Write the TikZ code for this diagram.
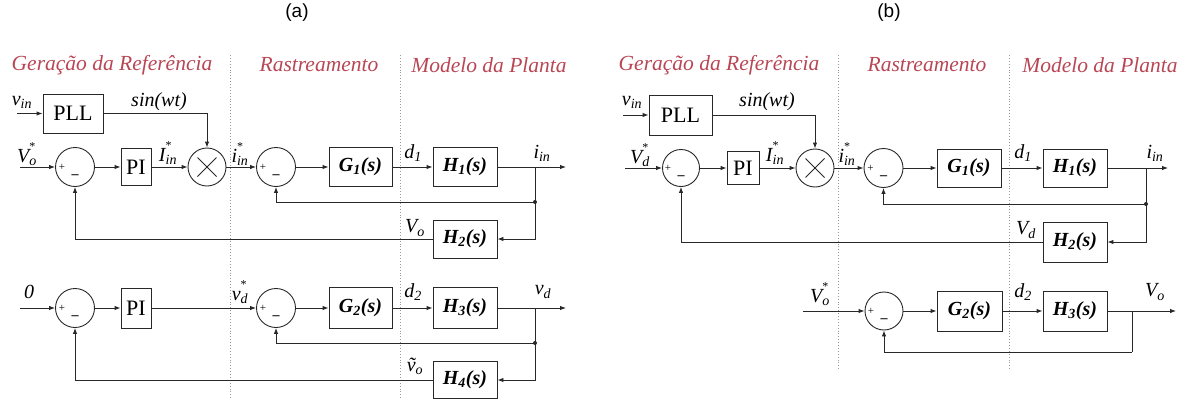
\documentclass[tikz,border=0pt]{standalone}
\usepackage{fontspec}
\setmainfont{Liberation Serif}
\newfontfamily\capfont{Liberation Sans}
\usetikzlibrary{arrows.meta}
\definecolor{ttl}{RGB}{185,70,85}
\definecolor{ln}{RGB}{40,40,40}
\newcommand{\SubSup}[3]{#1\rlap{\raisebox{0.62em}{\fontsize{12}{12}\selectfont\upshape #3}}\textsubscript{#2}}
\tikzset{
  arr/.style={draw=ln, line width=0.9pt, -{Latex[length=6pt,width=4.5pt]}},
  wire/.style={draw=ln, line width=0.9pt},
  blk/.style={draw=ln, line width=0.9pt, inner sep=0pt, font=\fontsize{20}{22}\selectfont\bfseries\itshape},
  plblk/.style={draw=ln, line width=0.9pt, inner sep=0pt, font=\fontsize{22}{24}\selectfont},
  sumc/.style={draw=ln, line width=0.9pt, circle, inner sep=0pt, minimum size=39pt},
  mulc/.style={draw=ln, line width=0.9pt, circle, inner sep=0pt, minimum size=38pt},
  lbl/.style={inner sep=0pt, font=\fontsize{20}{22}\selectfont\itshape},
  ttlf/.style={inner sep=0pt, text=ttl, font=\fontsize{21.5}{24}\selectfont\itshape},
  capf/.style={inner sep=0pt, font=\capfont\fontsize{19}{22}\selectfont},
  sep/.style={draw=gray!80, line width=0.9pt, dotted},
  pls/.style={inner sep=0pt, font=\fontsize{11}{12}\selectfont},
  mns/.style={inner sep=0pt, font=\fontsize{14}{14}\selectfont\bfseries},
}
\newcommand{\sumsigns}[1]{%
  \node[pls] at ([xshift=-13pt]#1.center) {+};
  \node[mns] at ([yshift=-10pt]#1.center) {--};
}
\newcommand{\mulx}[1]{%
  \draw[wire] ([shift={(-9.5pt,-9.5pt)}]#1.center) -- ([shift={(9.5pt,9.5pt)}]#1.center);
  \draw[wire] ([shift={(-9.5pt,9.5pt)}]#1.center) -- ([shift={(9.5pt,-9.5pt)}]#1.center);
}
\begin{document}
\begin{tikzpicture}[x=1pt,y=-1pt]
\useasboundingbox (0,0) rectangle (1189,399);

% captions
\node[capf] (capa) at (297,13) {(a)};
\node[capf] (capb) at (889,13) {(b)};

% ======================= panel (a) =======================
\node[ttlf] (ta1) at (112,65) {Geração da Referência};
\node[ttlf] (ta2) at (319,65) {Rastreamento};
\node[ttlf] (ta3) at (489,65) {Modelo da Planta};
\draw[sep] (230,55) -- (230,399);
\draw[sep] (400,55) -- (400,399);

% row 1
\node[plblk, minimum width=60pt, minimum height=39pt] (pllA) at (73,113.5) {PLL};
\node[sumc] (s1A) at (75,167) {};
\node[plblk, minimum width=30pt, minimum height=37pt] (pi1A) at (136,167) {PI};
\node[mulc] (mA) at (207,167) {};
\node[sumc] (s2A) at (276,167) {};
\node[blk, minimum width=63pt, minimum height=39pt] (g1A) at (360.5,167) {G\textsubscript{1}(s)};
\node[blk, minimum width=64pt, minimum height=39pt] (h1A) at (465,167) {H\textsubscript{1}(s)};
\node[blk, minimum width=64pt, minimum height=38pt] (h2A) at (465,239) {H\textsubscript{2}(s)};
\sumsigns{s1A}\sumsigns{s2A}\mulx{mA}

\coordinate (vinA) at (17,113.5);
\coordinate (inA) at (20,167);
\coordinate (outA) at (566,167);
\coordinate (brA) at (535,167);
\coordinate (jA) at (535,202);

\draw[arr] (vinA) -- (pllA);
\draw[arr] (pllA.east) -| (mA.north);
\draw[arr] (inA) -- (s1A);
\draw[arr] (s1A) -- (pi1A);
\draw[arr] (pi1A) -- (mA);
\draw[arr] (mA) -- (s2A);
\draw[arr] (s2A) -- (g1A);
\draw[arr] (g1A) -- (h1A);
\draw[arr] (h1A) -- (outA);
\draw[arr] (jA) -| (s2A.south);
\draw[arr] (brA) |- (h2A.east);
\draw[arr] (h2A.west) -| (s1A.south);
\fill[ln] (jA) circle (2);

\node[lbl] (lvinA) at (22,102) {v\textsubscript{in}};
\node[lbl] (lsinA) at (159,102) {sin(wt)};
\node[lbl] (lVoA) at (27,154) {\SubSup{V}{o}{*}};
\node[lbl] (lIinA) at (168,153) {\SubSup{I}{in}{*}};
\node[lbl] (liinsA) at (240,154) {\SubSup{i}{in}{*}};
\node[lbl] (ld1A) at (413,153) {d\textsubscript{1}};
\node[lbl] (liinA) at (542,153) {i\textsubscript{in}};
\node[lbl] (lVo2A) at (415,228) {V\textsubscript{o}};

% row 2
\node[sumc] (s3A) at (75,308) {};
\node[plblk, minimum width=30pt, minimum height=40pt] (pi2A) at (136,308) {PI};
\node[sumc] (s4A) at (276,308) {};
\node[blk, minimum width=63pt, minimum height=41pt] (g2A) at (360.5,308) {G\textsubscript{2}(s)};
\node[blk, minimum width=64pt, minimum height=41pt] (h3A) at (465,308) {H\textsubscript{3}(s)};
\node[blk, minimum width=64pt, minimum height=37pt] (h4A) at (465,380) {H\textsubscript{4}(s)};
\sumsigns{s3A}\sumsigns{s4A}

\coordinate (in2A) at (20,308);
\coordinate (out2A) at (566,308);
\coordinate (br2A) at (535,308);
\coordinate (j2A) at (535,343);

\draw[arr] (in2A) -- (s3A);
\draw[arr] (s3A) -- (pi2A);
\draw[arr] (pi2A) -- (s4A);
\draw[arr] (s4A) -- (g2A);
\draw[arr] (g2A) -- (h3A);
\draw[arr] (h3A) -- (out2A);
\draw[arr] (j2A) -| (s4A.south);
\draw[arr] (br2A) |- (h4A.east);
\draw[arr] (h4A.west) -| (s3A.south);
\fill[ln] (j2A) circle (2);

\node[lbl] (l0A) at (29,292) {0};
\node[lbl] (lvdsA) at (240,292) {\SubSup{v}{d}{*}};
\node[lbl] (ld2A) at (413,292) {d\textsubscript{2}};
\node[lbl] (lvdA) at (543,292) {v\textsubscript{d}};
\node[lbl] (lvtA) at (415,366) {\~{v}\textsubscript{o}};

% ======================= panel (b) =======================
\node[ttlf] (tb1) at (719,65) {Geração da Referência};
\node[ttlf] (tb2) at (927,65) {Rastreamento};
\node[ttlf] (tb3) at (1100,65) {Modelo da Planta};
\draw[sep] (838,55) -- (838,370);
\draw[sep] (1009,55) -- (1009,370);

% row 1
\node[plblk, minimum width=63pt, minimum height=40pt] (pllB) at (680.5,115) {PLL};
\node[sumc, minimum size=37pt] (s1B) at (681,168) {};
\node[plblk, minimum width=32pt, minimum height=33pt] (piB) at (743,168) {PI};
\node[mulc] (mB) at (815,168) {};
\node[sumc] (s2B) at (883.5,168) {};
\node[blk, minimum width=64pt, minimum height=38pt] (g1B) at (969,168) {G\textsubscript{1}(s)};
\node[blk, minimum width=64pt, minimum height=38pt] (h1B) at (1075,168) {H\textsubscript{1}(s)};
\node[blk, minimum width=64pt, minimum height=40pt] (h2B) at (1075,242) {H\textsubscript{2}(s)};
\sumsigns{s1B}\sumsigns{s2B}\mulx{mB}

\coordinate (vinB) at (623,115);
\coordinate (inB) at (625,168);
\coordinate (outB) at (1168,168);
\coordinate (brB) at (1146,168);
\coordinate (jB) at (1146,204);

\draw[arr] (vinB) -- (pllB);
\draw[arr] (pllB.east) -| (mB.north);
\draw[arr] (inB) -- (s1B);
\draw[arr] (s1B) -- (piB);
\draw[arr] (piB) -- (mB);
\draw[arr] (mB) -- (s2B);
\draw[arr] (s2B) -- (g1B);
\draw[arr] (g1B) -- (h1B);
\draw[arr] (h1B) -- (outB);
\draw[arr] (jB) -| (s2B.south);
\draw[arr] (brB) |- (h2B.east);
\draw[arr] (h2B.west) -| (s1B.south);
\fill[ln] (jB) circle (2);

\node[lbl] (lvinB) at (632,102) {v\textsubscript{in}};
\node[lbl] (lsinB) at (767,102) {sin(wt)};
\node[lbl] (lVdB) at (640,155) {\SubSup{V}{d}{*}};
\node[lbl] (lIinB) at (775,153) {\SubSup{I}{in}{*}};
\node[lbl] (liinsB) at (847,154) {\SubSup{i}{in}{*}};
\node[lbl] (ld1B) at (1023,153) {d\textsubscript{1}};
\node[lbl] (liinB) at (1155,153) {i\textsubscript{in}};
\node[lbl] (lVd2B) at (1026,230) {V\textsubscript{d}};

% row 2
\node[sumc, minimum size=38pt] (s3B) at (884,311) {};
\node[blk, minimum width=65pt, minimum height=40pt] (g2B) at (969.5,311) {G\textsubscript{2}(s)};
\node[blk, minimum width=64pt, minimum height=40pt] (h3B) at (1075,311) {H\textsubscript{3}(s)};
\sumsigns{s3B}

\coordinate (in2B) at (803,311);
\coordinate (out2B) at (1176,311);
\coordinate (br2B) at (1132,311);
\coordinate (j2B) at (1132,352);

\draw[arr] (in2B) -- (s3B);
\draw[arr] (s3B) -- (g2B);
\draw[arr] (g2B) -- (h3B);
\draw[arr] (h3B) -- (out2B);
\draw[wire] (br2B) -- (j2B);
\draw[arr] (j2B) -| (s3B.south);

\node[lbl] (lVoB) at (820,294) {\SubSup{V}{o}{*}};
\node[lbl] (ld2B) at (1023,292) {d\textsubscript{2}};
\node[lbl] (lVo2B) at (1155,292) {V\textsubscript{o}};
\end{tikzpicture}
\end{document}
